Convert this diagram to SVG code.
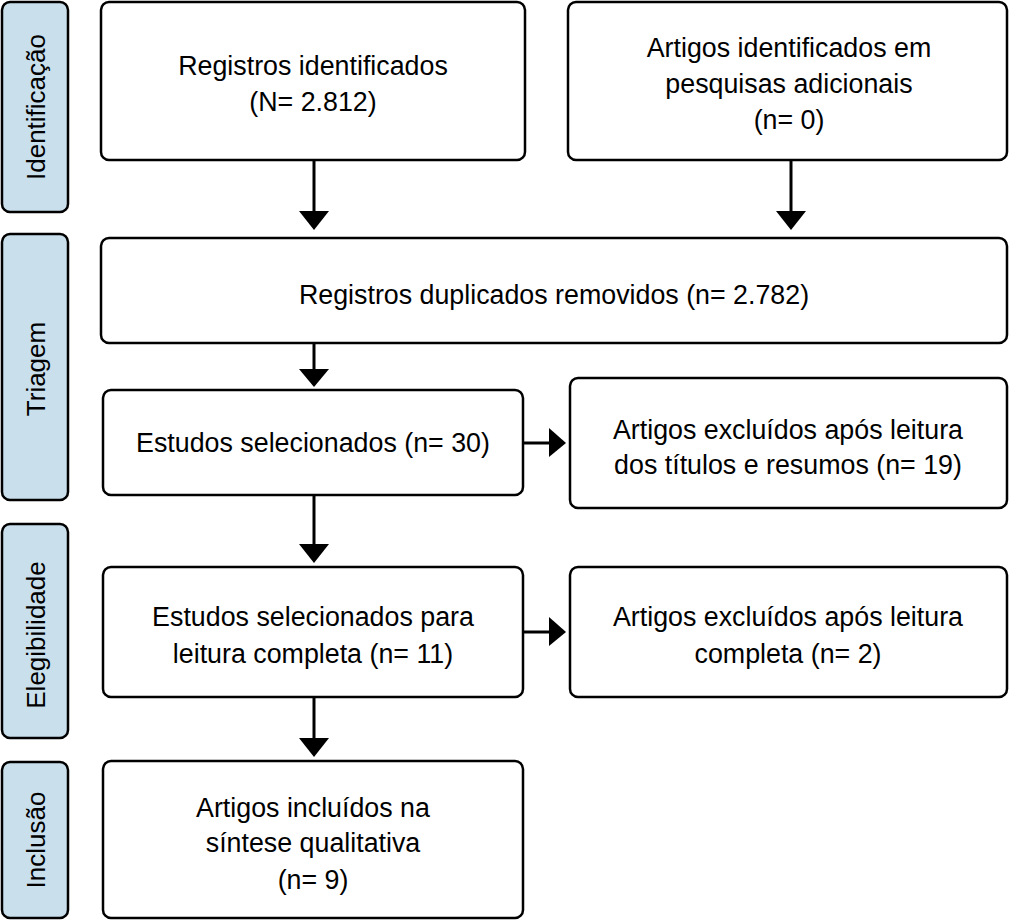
<svg xmlns="http://www.w3.org/2000/svg" width="1010" height="922" viewBox="0 0 1010 922">
<style>
.side{fill:#c9dfec;stroke:#000;stroke-width:2.5}
.box{fill:#fff;stroke:#000;stroke-width:2.5}
text{font-family:"Liberation Sans",Arial,sans-serif;font-size:26.8px;fill:#000;text-anchor:middle}
.sl{font-size:26px}
.c{stroke:#000;stroke-width:3;fill:none}
</style>
<rect width="1010" height="922" fill="#fff"/>
<g id="stage-identificacao"><rect class="side" x="2" y="2" width="66" height="210" rx="8"/><text class="sl" transform="translate(45,107) rotate(-90)">Identificação</text></g>
<g id="stage-triagem"><rect class="side" x="2" y="234" width="66" height="266" rx="8"/><text class="sl" transform="translate(45,369) rotate(-90)">Triagem</text></g>
<g id="stage-elegibilidade"><rect class="side" x="2" y="524" width="66" height="214" rx="8"/><text class="sl" transform="translate(45,635) rotate(-90)">Elegibilidade</text></g>
<g id="stage-inclusao"><rect class="side" x="2" y="762" width="66" height="156" rx="8"/><text class="sl" transform="translate(45,840) rotate(-90)">Inclusão</text></g>

<g id="n1"><rect class="box" x="101" y="2" width="424" height="158" rx="8"/><text x="313" y="75">Registros identificados</text><text x="313" y="111">(N= 2.812)</text></g>
<g id="n2"><rect class="box" x="568" y="2" width="439" height="158" rx="8"/><text x="789" y="57">Artigos identificados em</text><text x="789" y="93">pesquisas adicionais</text><text x="789" y="129">(n= 0)</text></g>
<g id="n3"><rect class="box" x="101" y="238" width="906" height="105" rx="8"/><text x="554" y="304">Registros duplicados removidos (n= 2.782)</text></g>
<g id="n4"><rect class="box" x="103" y="390" width="420" height="105" rx="8"/><text x="313" y="452">Estudos selecionados (n= 30)</text></g>
<g id="n5"><rect class="box" x="570" y="378" width="437" height="130" rx="8"/><text x="788" y="439">Artigos excluídos após leitura</text><text x="788" y="474">dos títulos e resumos (n= 19)</text></g>
<g id="n6"><rect class="box" x="103" y="567" width="420" height="130" rx="8"/><text x="313" y="626">Estudos selecionados para</text><text x="313" y="663">leitura completa (n= 11)</text></g>
<g id="n7"><rect class="box" x="570" y="567" width="437" height="130" rx="8"/><text x="788" y="626">Artigos excluídos após leitura</text><text x="788" y="663">completa (n= 2)</text></g>
<g id="n8"><rect class="box" x="103" y="761" width="420" height="157" rx="8"/><text x="313" y="817">Artigos incluídos na</text><text x="313" y="852">síntese qualitativa</text><text x="313" y="889">(n= 9)</text></g>

<g id="connectors">
<path class="c" d="M314,160 V212"/><path d="M299,211 H329 L314,230 z"/>
<path class="c" d="M791,160 V212"/><path d="M776,211 H806 L791,230 z"/>
<path class="c" d="M314,343 V370"/><path d="M299,369 H329 L314,387 z"/>
<path class="c" d="M314,495 V545"/><path d="M299,544 H329 L314,563 z"/>
<path class="c" d="M314,697 V739"/><path d="M299,738 H329 L314,757 z"/>
<path class="c" d="M523,443 H550"/><path d="M549,428 V457 L566,443 z"/>
<path class="c" d="M523,632 H550"/><path d="M549,617 V646 L566,632 z"/>
</g>
</svg>
